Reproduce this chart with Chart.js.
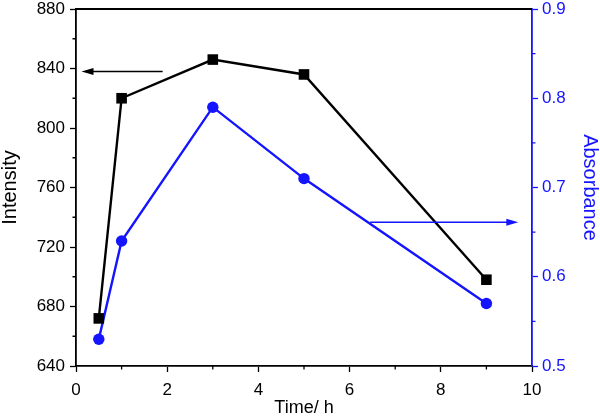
<!DOCTYPE html>
<html>
<head>
<meta charset="utf-8">
<script src="https://cdn.jsdelivr.net/npm/chart.js@4.4.1/dist/chart.umd.min.js"></script>
<style>
html,body{margin:0;padding:0;background:#fff;}
#wrap{width:600px;height:417px;}
</style>
</head>
<body>
<div id="wrap"><canvas id="c" width="600" height="417"></canvas></div>
<script>
const times = [0.5, 1, 3, 5, 9];
const intensity = [672, 820, 846, 836, 698];
const absorbance = [0.53, 0.64, 0.79, 0.71, 0.57];
const xTicksMinor = [1, 3, 5, 7, 9];
const yLeftMinor = [660, 700, 740, 780, 820, 860];
const yRightMinor = [0.55, 0.65, 0.75, 0.85];
const leftArrowX = [1.9, 0.12];
const leftArrowY = 838;
const rightArrowX = [6.45, 9.7];
const rightArrowY = 0.661;

const FONT = "'Liberation Sans', Arial, sans-serif";
const BLUE = '#1414ff';

const extras = {
  id: 'extras',
  afterDraw(chart) {
    const ctx = chart.ctx;
    const ca = chart.chartArea;
    const xs = chart.scales.x, yl = chart.scales.y, yr = chart.scales.y2;
    ctx.save();
    // top frame
    ctx.strokeStyle = '#000';
    ctx.lineWidth = 1.8;
    ctx.beginPath();
    ctx.moveTo(ca.left, ca.top);
    ctx.lineTo(ca.right, ca.top);
    ctx.stroke();
    // minor ticks
    ctx.lineWidth = 1.3;
    ctx.beginPath();
    xTicksMinor.forEach(v => { const p = xs.getPixelForValue(v); ctx.moveTo(p, ca.bottom); ctx.lineTo(p, ca.bottom + 3.5); });
    yLeftMinor.forEach(v => { const p = yl.getPixelForValue(v); ctx.moveTo(ca.left, p); ctx.lineTo(ca.left - 3.5, p); });
    ctx.stroke();
    ctx.strokeStyle = BLUE;
    ctx.beginPath();
    yRightMinor.forEach(v => { const p = yr.getPixelForValue(v); ctx.moveTo(ca.right, p); ctx.lineTo(ca.right + 3.5, p); });
    ctx.stroke();
    // arrows
    function arrow(x1, x2, y, color) {
      ctx.strokeStyle = color; ctx.fillStyle = color; ctx.lineWidth = 1.5;
      const dir = Math.sign(x2 - x1);
      ctx.beginPath();
      ctx.moveTo(x1, y); ctx.lineTo(x2 - dir * 8, y); ctx.stroke();
      ctx.beginPath();
      ctx.moveTo(x2, y); ctx.lineTo(x2 - dir * 12, y - 3.5); ctx.lineTo(x2 - dir * 12, y + 3.5); ctx.closePath(); ctx.fill();
    }
    arrow(xs.getPixelForValue(leftArrowX[0]), xs.getPixelForValue(leftArrowX[1]), yl.getPixelForValue(leftArrowY), '#000');
    arrow(xs.getPixelForValue(rightArrowX[0]), xs.getPixelForValue(rightArrowX[1]), yr.getPixelForValue(rightArrowY), BLUE);
    ctx.restore();
  }
};

function fixV(width) {
  return function (s) { s.width = width; s.paddingTop = 9; s.paddingBottom = 0; };
}

new Chart(document.getElementById('c'), {
  type: 'line',
  data: {
    datasets: [
      {
        label: 'Intensity',
        data: times.map((t, i) => ({x: t, y: intensity[i]})),
        yAxisID: 'y',
        borderColor: '#000', backgroundColor: '#000', borderWidth: 2.4,
        pointStyle: 'rect', pointRadius: 7.5, pointBorderWidth: 0
      },
      {
        label: 'Absorbance',
        data: times.map((t, i) => ({x: t, y: absorbance[i]})),
        yAxisID: 'y2',
        borderColor: BLUE, backgroundColor: BLUE, borderWidth: 2.4,
        pointStyle: 'circle', pointRadius: 5.7, pointBorderWidth: 0
      }
    ]
  },
  options: {
    responsive: false,
    animation: false,
    layout: { padding: 0 },
    plugins: { legend: { display: false }, tooltip: { enabled: false } },
    scales: {
      x: {
        type: 'linear', min: 0, max: 10,
        afterFit(s) { s.height = 51; s.paddingLeft = 0; s.paddingRight = 0; },
        ticks: { stepSize: 2, color: '#000', padding: 8, font: { family: FONT, size: 17 }, maxRotation: 0 },
        grid: { display: true, drawOnChartArea: false, drawTicks: true, tickLength: 6, color: '#000', tickWidth: 1.3 },
        border: { display: true, color: '#000', width: 1.8 },
        title: { display: true, text: 'Time/ h', color: '#000', padding: 0, font: { family: FONT, size: 18, lineHeight: 1 } }
      },
      y: {
        position: 'left', min: 640, max: 880,
        afterFit: fixV(76),
        ticks: { stepSize: 40, color: '#000', padding: 5, font: { family: FONT, size: 17 } },
        grid: { display: true, drawOnChartArea: false, drawTicks: true, tickLength: 6, color: '#000', tickWidth: 1.3 },
        border: { display: true, color: '#000', width: 1.8 },
        title: { display: true, text: 'Intensity', color: '#000', padding: 0, font: { family: FONT, size: 20, lineHeight: 1 } }
      },
      y2: {
        position: 'right', min: 0.5, max: 0.9,
        afterFit: fixV(68),
        ticks: { stepSize: 0.1, color: BLUE, padding: 4, font: { family: FONT, size: 17 }, callback: v => v.toFixed(1) },
        grid: { display: true, drawOnChartArea: false, drawTicks: true, tickLength: 6, color: BLUE, tickWidth: 1.3 },
        border: { display: true, color: BLUE, width: 1.8 },
        title: { display: true, text: 'Absorbance', color: BLUE, padding: 0, font: { family: FONT, size: 20, lineHeight: 1 } }
      }
    }
  },
  plugins: [extras]
});
</script>
</body>
</html>
